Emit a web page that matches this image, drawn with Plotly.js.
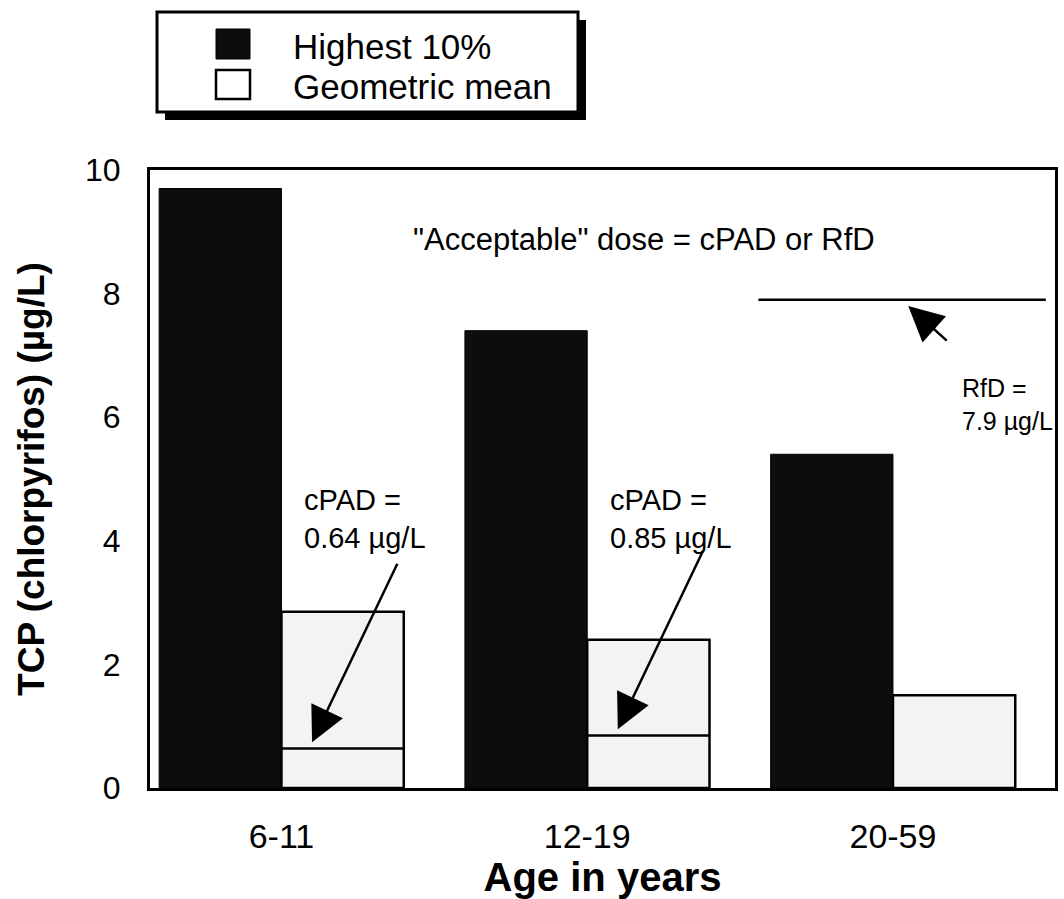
<!DOCTYPE html>
<html>
<head>
<meta charset="utf-8">
<script src="https://cdn.plot.ly/plotly-3.0.1.min.js"></script>
<style>
  html, body { margin: 0; padding: 0; background: #ffffff; }
  #chart { width: 1064px; height: 899px; }
</style>
</head>
<body>
<div id="chart"></div>
<script>
// ---- Data ----
const categories = ['6-11', '12-19', '20-59'];
const highest10 = [9.7, 7.4, 5.4];
const geometricMean = [2.85, 2.4, 1.5];
const cpadValues = [0.64, 0.85, null];
const cpadLabels = ['cPAD =<br>0.64 µg/L', 'cPAD =<br>0.85 µg/L', null];
const rfdValue = 7.9;
const rfdLabel = 'RfD =<br>7.9 µg/L';
const seriesNames = ['Highest 10%', 'Geometric mean'];
const noteText = '"Acceptable" dose = cPAD or RfD';
const xTitle = 'Age in years';
const yTitle = 'TCP (chlorpyrifos) (µg/L)';

const FONT = 'Liberation Sans, Arial, Helvetica, sans-serif';

const traces = [
  {
    type: 'bar', name: seriesNames[0], x: categories, y: highest10,
    marker: { color: '#0d0d0d', line: { color: '#000', width: 1 } },
    showlegend: false, hoverinfo: 'x+y+name'
  },
  {
    type: 'bar', name: seriesNames[1], x: categories, y: geometricMean,
    marker: { color: '#f3f3f3', line: { color: '#000', width: 2.5 } },
    showlegend: false, hoverinfo: 'x+y+name'
  }
];

const shapes = [];
const annotations = [];

// cPAD reference lines across the geometric-mean bars
cpadValues.forEach((v, i) => {
  if (v === null) return;
  shapes.push({
    type: 'line', xref: 'x', yref: 'y',
    x0: i, x1: i + 0.4, y0: v, y1: v,
    line: { color: '#000', width: 2.5 }
  });
  annotations.push({
    xref: 'x', yref: 'y', x: i + 0.068, y: 4.35,
    text: cpadLabels[i], showarrow: false, xanchor: 'left', yanchor: 'middle',
    align: 'left', font: { family: FONT, size: 29, color: '#000' }
  });
  annotations.push({
    xref: 'x', yref: 'y', x: i + 0.1, y: v + 0.1,
    text: '', showarrow: true, axref: 'pixel', ayref: 'pixel',
    ax: 86, ay: -180, arrowhead: 2, arrowsize: 2.8, arrowwidth: 2.5, arrowcolor: '#000'
  });
});

// RfD reference line (20-59 group)
const rfdIdx = 2;
shapes.push({
  type: 'line', xref: 'x', yref: 'y',
  x0: rfdIdx - 0.44, x1: rfdIdx + 0.5, y0: rfdValue, y1: rfdValue,
  line: { color: '#000', width: 2.5 }
});
annotations.push({
  xref: 'x', yref: 'y', x: rfdIdx + 0.22, y: 6.2,
  text: rfdLabel, showarrow: false, xanchor: 'left', yanchor: 'middle',
  align: 'left', font: { family: FONT, size: 25, color: '#000' }
});
annotations.push({
  xref: 'x', yref: 'y', x: rfdIdx + 0.05, y: rfdValue - 0.1,
  text: '', showarrow: true, axref: 'pixel', ayref: 'pixel',
  ax: 40, ay: 36, arrowhead: 2, arrowsize: 2.8, arrowwidth: 2.5, arrowcolor: '#000'
});

// Note text
annotations.push({
  xref: 'paper', yref: 'paper', x: 0.546, y: 0.887,
  text: noteText, showarrow: false, xanchor: 'center', yanchor: 'middle',
  font: { family: FONT, size: 31, color: '#000' }
});

// ---- Custom legend box (with drop shadow) above the plot ----
const legendShape = (x0, x1, y0, y1, fill, lw) => ({
  type: 'rect', xref: 'paper', yref: 'paper',
  xsizemode: 'pixel', ysizemode: 'pixel', xanchor: 0, yanchor: 1,
  x0: x0, x1: x1, y0: y0, y1: y1,
  fillcolor: fill, line: { color: '#000', width: lw }, layer: 'above'
});
shapes.push(legendShape(15, 436, 50, 150, '#000', 0));
shapes.push(legendShape(7, 428, 58, 158, '#fff', 3));
shapes.push(legendShape(66, 100, 111, 141, '#0d0d0d', 1));
shapes.push(legendShape(66, 100, 71, 100, '#fff', 2.5));
[seriesNames[0], seriesNames[1]].forEach((name, k) => {
  annotations.push({
    xref: 'paper', yref: 'paper', x: 0, y: 1, xshift: 141, yshift: k === 0 ? 124 : 84,
    text: name, showarrow: false, xanchor: 'left', yanchor: 'middle',
    font: { family: FONT, size: 35, color: '#000' }
  });
});

const layout = {
  width: 1064, height: 899,
  margin: { l: 150, r: 6, t: 170, b: 111 },
  paper_bgcolor: '#fff', plot_bgcolor: '#fff',
  barmode: 'group', bargap: 0.2, bargroupgap: 0,
  showlegend: false,
  font: { family: FONT, color: '#000' },
  xaxis: {
    type: 'category', range: [-0.43, 2.53],
    showline: true, mirror: true, linecolor: '#000', linewidth: 3,
    showgrid: false, zeroline: false, ticks: '',
    ticklabelstandoff: 16,
    tickfont: { family: FONT, size: 34, color: '#000' },
    title: { text: xTitle, font: { family: FONT, size: 40, color: '#000', weight: 'bold' }, standoff: 4 }
  },
  yaxis: {
    range: [0, 10], tickvals: [0, 2, 4, 6, 8, 10],
    showline: true, mirror: true, linecolor: '#000', linewidth: 3,
    showgrid: false, zeroline: false, ticks: '',
    ticklabelstandoff: 20,
    automargin: true,
    tickfont: { family: FONT, size: 32, color: '#000' },
    title: { text: yTitle, font: { family: FONT, size: 37, color: '#000', weight: 'bold' }, standoff: 30 }
  },
  shapes: shapes,
  annotations: annotations
};

Plotly.newPlot('chart', traces, layout, { displayModeBar: false, staticPlot: true });
</script>
</body>
</html>
